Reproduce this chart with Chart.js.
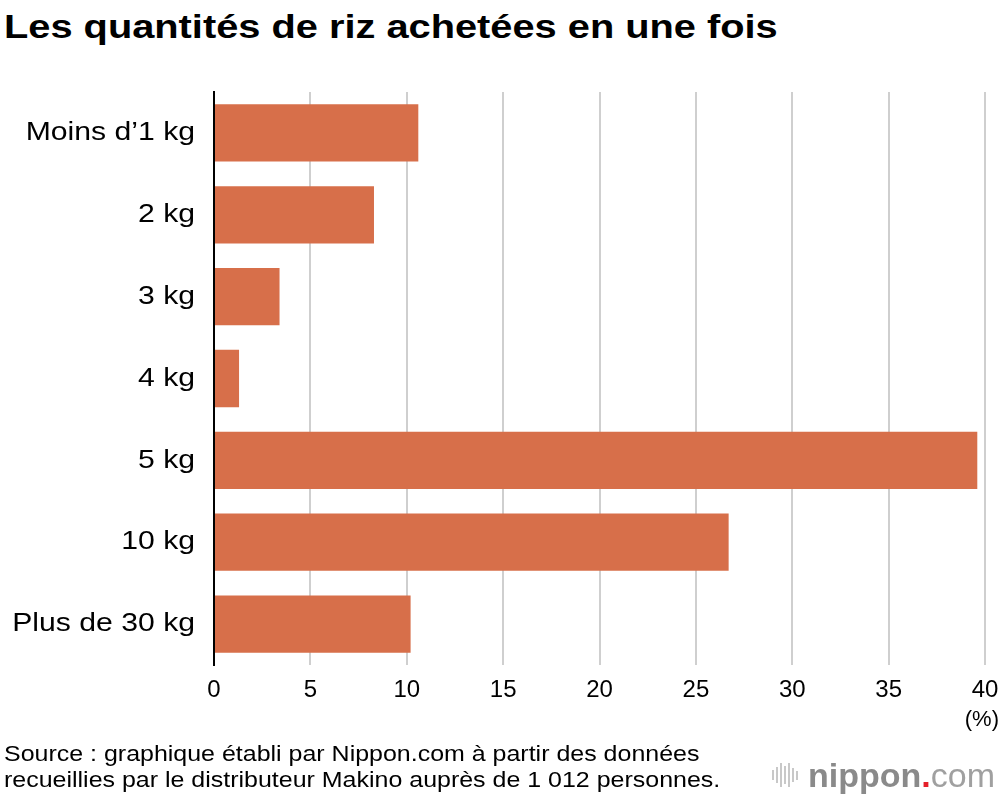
<!DOCTYPE html>
<html>
<head>
<meta charset="utf-8">
<script src="https://cdn.jsdelivr.net/npm/chart.js@4/dist/chart.umd.min.js"></script>
<style>
  html, body { margin: 0; padding: 0; background: #fff; }
  body { width: 1000px; height: 796px; position: relative; overflow: hidden; font-family: "Liberation Sans", Arial, Helvetica, sans-serif; color: #000; }
  #title { position: absolute; left: 4px; top: 7px; font-size: 34px; font-weight: bold; white-space: nowrap; transform: scaleX(1.17); transform-origin: 0 0; }
  #wrap { position: absolute; left: 0; top: 0; width: 1000px; height: 796px; }
  #unit { position: absolute; right: 1px; top: 706px; font-size: 22px; }
  #source { position: absolute; left: 4px; top: 741px; font-size: 22px; line-height: 26px; white-space: nowrap; transform: scaleX(1.135); transform-origin: 0 0; }
  #logo { position: absolute; left: 772px; top: 757px; height: 36px; display: flex; align-items: center; white-space: nowrap; }
  #icon { display: flex; align-items: center; gap: 2px; margin-right: 10px; }
  #icon span { display: block; width: 2px; background: #c8c8c8; }
  #logo .n { font-size: 34px; font-weight: bold; color: #8a8a8a; }
  #logo .d { font-size: 34px; font-weight: bold; color: #e5202a; }
  #logo .c { font-size: 34px; color: #a0a0a0; font-weight: normal; }
</style>
</head>
<body>
<div id="title">Les quantités de riz achetées en une fois</div>
<div id="wrap"><canvas id="c" width="1000" height="796"></canvas></div>
<div id="unit">(%)</div>
<div id="source">Source : graphique établi par Nippon.com à partir des données<br>recueillies par le distributeur Makino auprès de 1 012 personnes.</div>
<div id="logo">
  <div id="icon"><span style="height:10px"></span><span style="height:16px"></span><span style="height:24px"></span><span style="height:18px"></span><span style="height:24px"></span><span style="height:14px"></span><span style="height:9px"></span></div>
  <span class="n">nippon</span><span class="d">.</span><span class="c">com</span>
</div>
<script>
const categories = ["Moins d’1 kg", "2 kg", "3 kg", "4 kg", "5 kg", "10 kg", "Plus de 30 kg"];
const values = [10.6, 8.3, 3.4, 1.3, 39.6, 26.7, 10.2];
const xTicks = [0, 5, 10, 15, 20, 25, 30, 35, 40];

const FONT = "'Liberation Sans', Arial, Helvetica, sans-serif";
const LABEL_STRETCH = 1.16;

// Widen the category labels horizontally around their right edge
const stretchLabels = {
  id: 'stretchLabels',
  afterLayout(chart) {
    const y = chart.scales.y;
    if (y._patched) return;
    y._patched = true;
    const orig = y.drawLabels.bind(y);
    y.drawLabels = function (area) {
      const ctx = this.ctx;
      const xr = this.right - this.options.ticks.padding;
      ctx.save();
      ctx.translate(xr, 0);
      ctx.scale(LABEL_STRETCH, 1);
      ctx.translate(-xr, 0);
      orig(area);
      ctx.restore();
    };
  }
};

new Chart(document.getElementById('c'), {
  type: 'bar',
  data: {
    labels: categories,
    datasets: [{
      data: values,
      backgroundColor: '#d76f4a',
      borderWidth: 0,
      categoryPercentage: 0.7,
      barPercentage: 1.0
    }]
  },
  options: {
    indexAxis: 'y',
    responsive: false,
    animation: false,
    devicePixelRatio: 1,
    layout: { padding: { top: 92, right: 15, bottom: 91, left: 0 } },
    plugins: { legend: { display: false }, tooltip: { enabled: false } },
    scales: {
      x: {
        type: 'linear',
        min: 0, max: 40,
        afterBuildTicks: (s) => { s.ticks = xTicks.map(v => ({ value: v })); },
        afterFit: (s) => { s.height = 40; s.paddingRight = 0; s.paddingLeft = 0; },
        border: { display: false },
        grid: {
          drawTicks: false,
          color: (ctx) => ctx.tick && ctx.tick.value === 0 ? 'rgba(0,0,0,0)' : '#cfcfcf',
          lineWidth: 2
        },
        ticks: { padding: 11, color: '#000', font: { family: FONT, size: 24 }, maxRotation: 0 }
      },
      y: {
        afterFit: (s) => { s.width = 214; s.paddingTop = 0; s.paddingBottom = 0; },
        border: { display: true, color: '#000', width: 2 },
        grid: { display: false, drawTicks: false },
        ticks: { padding: 19, color: '#000', font: { family: FONT, size: 26 } }
      }
    }
  },
  plugins: [stretchLabels]
});
</script>
</body>
</html>
